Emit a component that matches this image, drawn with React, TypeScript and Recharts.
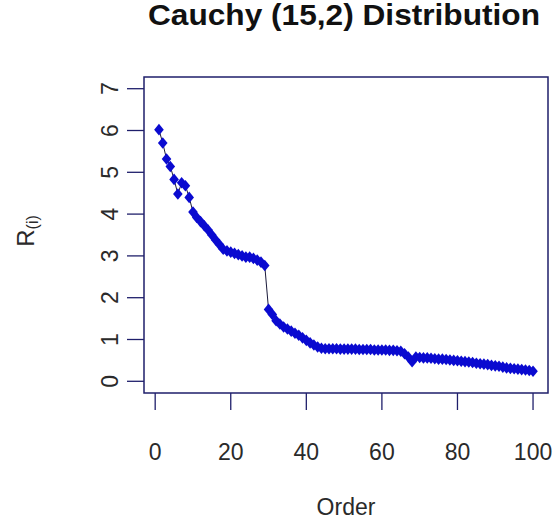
import React from 'react';
import { LineChart, Line, XAxis, YAxis, ReferenceArea } from 'recharts';

const orderedValues: number[] = [
  6.02, 5.70, 5.32, 5.14, 4.83, 4.48, 4.75, 4.68, 4.40, 4.05,
  3.92, 3.82, 3.72, 3.62, 3.50, 3.38, 3.27, 3.16, 3.12, 3.09,
  3.06, 3.03, 3.00, 2.97, 2.97, 2.94, 2.90, 2.85, 2.77, 1.72,
  1.60, 1.45, 1.37, 1.30, 1.25, 1.20, 1.15, 1.10, 1.04, 0.98,
  0.92, 0.87, 0.82, 0.79, 0.78, 0.78, 0.78, 0.78, 0.77, 0.77,
  0.77, 0.77, 0.77, 0.76, 0.76, 0.76, 0.76, 0.75, 0.75, 0.75,
  0.75, 0.74, 0.74, 0.73, 0.72, 0.66, 0.58, 0.47, 0.58, 0.57,
  0.56, 0.56, 0.55, 0.54, 0.53, 0.53, 0.52, 0.51, 0.50, 0.49,
  0.48, 0.47, 0.46, 0.45, 0.43, 0.42, 0.41, 0.40, 0.38, 0.37,
  0.36, 0.34, 0.32, 0.31, 0.30, 0.29, 0.28, 0.27, 0.26, 0.24,
];

const xTicks: number[] = [0, 20, 40, 60, 80, 100];
const yTicks: number[] = [0, 1, 2, 3, 4, 5, 6, 7];
const xDomain: [number, number] = [-2.96, 103.96];
const yDomain: [number, number] = [-0.28, 7.28];

const titleText = 'Cauchy (15,2) Distribution';
const xLabel = 'Order';
const yLabelMain = 'R';
const yLabelSub = '(i)';

const data = orderedValues.map((v, i) => ({ order: i + 1, value: v }));

const FONT = '"Liberation Sans", Arial, sans-serif';
const NAVY = '#1f1f6b';
const BLUE = '#0a0ad0';

const Diamond = (props: any) => {
  const { cx, cy, index } = props;
  if (cx == null || cy == null) return <g key={`d-${index}`} />;
  const w = 4.8;
  const h = 5.8;
  return (
    <path
      key={`d-${index}`}
      d={`M${cx},${cy - h} L${cx + w},${cy} L${cx},${cy + h} L${cx - w},${cy} Z`}
      fill={BLUE}
      stroke="none"
    />
  );
};

const YTick = (props: any) => {
  const { x, y, payload } = props;
  return (
    <text
      x={x}
      y={y}
      transform={`rotate(-90 ${x} ${y})`}
      textAnchor="middle"
      dominantBaseline="central"
      fontFamily={FONT}
      fontSize={23}
      fill="#2a2a2a"
    >
      {payload.value}
    </text>
  );
};

const XLabel = (props: any) => {
  const vb = props.viewBox || {};
  const cx = vb.x + vb.width / 2;
  const by = vb.y + 122;
  return (
    <text x={cx} y={by} textAnchor="middle" fontFamily={FONT} fontSize={23} fill="#2a2a2a">
      {xLabel}
    </text>
  );
};

const YLabel = (props: any) => {
  const vb = props.viewBox || {};
  const bx = vb.x + 34;
  const cy = vb.y + vb.height / 2 - 4;
  return (
    <text
      x={bx}
      y={cy}
      transform={`rotate(-90 ${bx} ${cy})`}
      textAnchor="middle"
      fontFamily={FONT}
      fontSize={24}
      fill="#2a2a2a"
    >
      {yLabelMain}
      <tspan fontSize={16} dy={4}>{yLabelSub}</tspan>
    </text>
  );
};

export default function App() {
  return (
    <div style={{ position: 'absolute', left: 0, top: 0, width: 553, height: 525, background: '#fff' }}>
      <svg width={553} height={60} style={{ position: 'absolute', left: 0, top: 0 }}>
        <text
          x={344}
          y={24.5}
          textAnchor="middle"
          fontFamily={FONT}
          fontWeight="bold"
          fontSize={29}
          textLength={392}
          lengthAdjust="spacingAndGlyphs"
          fill="#111"
        >
          {titleText}
        </text>
      </svg>
      <div style={{ position: 'absolute', left: 0, top: 0 }}>
        <LineChart
          width={553}
          height={525}
          data={data}
          margin={{ top: 77, right: 5, bottom: 0, left: 0 }}
        >
          <XAxis
            type="number"
            dataKey="order"
            domain={xDomain}
            ticks={xTicks}
            allowDataOverflow
            height={132}
            axisLine={false}
            tickSize={17}
            tickMargin={34}
            tickLine={{ stroke: NAVY, strokeWidth: 1.3 }}
            tick={{ fontFamily: FONT, fontSize: 23, fill: '#2a2a2a' }}
            interval={0}
            label={<XLabel />}
          />
          <YAxis
            type="number"
            domain={yDomain}
            ticks={yTicks}
            allowDataOverflow
            width={144}
            axisLine={false}
            tickSize={17}
            tickMargin={17}
            tickLine={{ stroke: NAVY, strokeWidth: 1.3 }}
            tick={<YTick />}
            interval={0}
            label={<YLabel />}
          />
          <ReferenceArea
            x1={xDomain[0]}
            x2={xDomain[1]}
            y1={yDomain[0]}
            y2={yDomain[1]}
            fill="none"
            fillOpacity={0}
            stroke={NAVY}
            strokeWidth={1.5}
            ifOverflow="visible"
          />
          <Line
            type="linear"
            dataKey="value"
            stroke="#1a1a3a"
            strokeWidth={1}
            dot={<Diamond />}
            activeDot={false}
            isAnimationActive={false}
          />
        </LineChart>
      </div>
    </div>
  );
}
